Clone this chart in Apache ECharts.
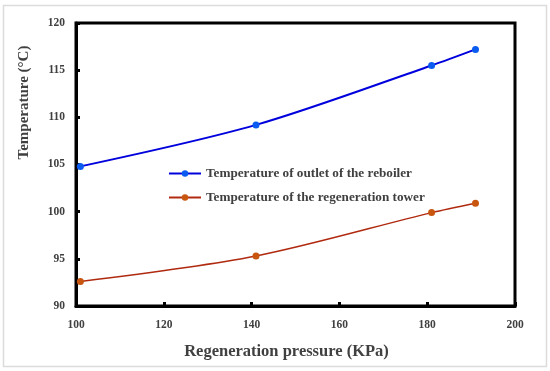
<!DOCTYPE html>
<html><head><meta charset="utf-8">
<script src="https://cdn.jsdelivr.net/npm/echarts@6/dist/echarts.min.js"></script>
<style>html,body{margin:0;padding:0;background:#fff}#c{width:550px;height:371px}</style>
</head><body><div id="c"></div>
<script>
const pressure = [101, 141, 181, 191];
const reboilerTemp = [104.8, 109.2, 115.5, 117.2];
const towerTemp = [92.6, 95.3, 99.9, 100.9];
const seriesNames = ['Temperature of outlet of the reboiler', 'Temperature of the regeneration tower'];
const xTitle = 'Regeneration pressure (KPa)';
const yTitle = 'Temperature (°C)';

const font = '"Liberation Serif", "Times New Roman", serif';
const chart = echarts.init(document.getElementById('c'), null, {renderer: 'canvas'});
chart.setOption({
  animation: false,
  backgroundColor: '#fff',
  graphic: [{type: 'rect', shape: {x: 3.5, y: 5.5, width: 543, height: 361}, style: {fill: 'none', stroke: '#dcdcdc', lineWidth: 1.5}, z: -10}],
  grid: {left: 76, right: 35, top: 23, bottom: 65, show: true, borderColor: '#000', borderWidth: 3, backgroundColor: 'transparent'},
  legend: {
    orient: 'vertical', left: 163, top: 162, itemGap: 11, itemWidth: 32, itemHeight: 8,
    textStyle: {fontFamily: font, fontWeight: 'bold', fontSize: 13.2, color: '#404040'},
    data: seriesNames
  },
  xAxis: {
    type: 'value', min: 100, max: 200, interval: 20,
    name: xTitle, nameLocation: 'middle', nameGap: 37,
    nameTextStyle: {fontFamily: font, fontWeight: 'bold', fontSize: 16.5, color: '#404040', padding: [0, 18, 0, 0]},
    axisLine: {show: true, lineStyle: {color: '#000', width: 3}},
    axisTick: {show: true, inside: true, length: 4, lineStyle: {color: '#000', width: 3}},
    axisLabel: {fontFamily: font, fontWeight: 'bold', fontSize: 11.5, color: '#404040', margin: 13},
    splitLine: {show: false}
  },
  yAxis: {
    type: 'value', min: 90, max: 120, interval: 5,
    name: yTitle, nameLocation: 'middle', nameGap: 44,
    nameTextStyle: {fontFamily: font, fontWeight: 'bold', fontSize: 15, color: '#404040', padding: [0, 0, 0, 124]},
    axisLine: {show: true, lineStyle: {color: '#000', width: 3}},
    axisTick: {show: true, inside: true, length: 4, lineStyle: {color: '#000', width: 3}},
    axisLabel: {fontFamily: font, fontWeight: 'bold', fontSize: 11.5, color: '#404040', margin: 11},
    splitLine: {show: false}
  },
  series: [
    {name: seriesNames[0], type: 'line', smooth: 0.3, data: pressure.map((p, i) => [p, reboilerTemp[i]]),
     symbol: 'circle', symbolSize: 7, lineStyle: {color: '#0000dd', width: 2},
     itemStyle: {color: '#0a5cf0'}},
    {name: seriesNames[1], type: 'line', smooth: 0.3, data: pressure.map((p, i) => [p, towerTemp[i]]),
     symbol: 'circle', symbolSize: 7, lineStyle: {color: '#b02a10', width: 1.5},
     itemStyle: {color: '#c8560f'}}
  ]
});
</script></body></html>
